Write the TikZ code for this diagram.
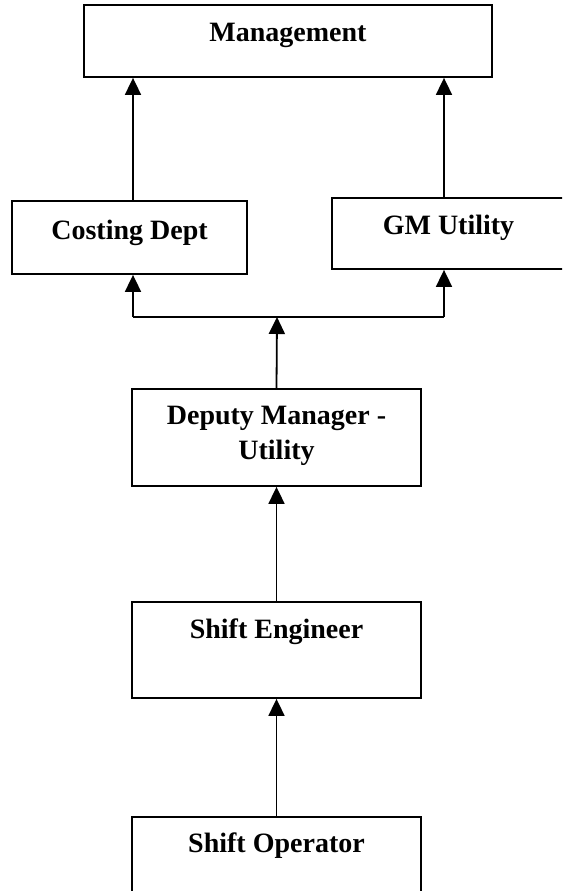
\documentclass[tikz,border=0pt]{standalone}
\usepackage{fontspec}
\setmainfont{Liberation Serif}
\usetikzlibrary{arrows.meta,calc}
\begin{document}
\begin{tikzpicture}[x=1pt,y=-1pt,
  boxline/.style={draw=black,line width=1.8pt,fill=white},
  lbl/.style={font=\fontsize{28}{35}\selectfont\bfseries,align=center,inner sep=0pt},
  arr/.style={line width=1.8pt,-{Triangle[width=16pt,length=17pt]}},
  plain/.style={line width=1.8pt}]
\useasboundingbox (0,0) rectangle (562,891);
\clip (0,0) rectangle (562,891);
% boxes
\node[boxline,minimum width=408pt,minimum height=72pt,inner sep=0pt] (mg) at (288,41) {};
\node[lbl] (mgt) at (288,35) {Management};
\node[boxline,minimum width=235pt,minimum height=73pt,inner sep=0pt] (cd) at (129.5,237.5) {};
\node[lbl] (cdt) at (129.5,233) {Costing Dept};
\node[boxline,minimum width=233pt,minimum height=71pt,inner sep=0pt] (gm) at (448.5,233.5) {};
\node[lbl] (gmt) at (448.5,228) {GM Utility};
\node[boxline,minimum width=289pt,minimum height=97pt,inner sep=0pt] (dm) at (276.5,437.5) {};
\node[lbl] (dmt) at (276.5,436) {Deputy Manager -\\Utility};
\node[boxline,minimum width=289pt,minimum height=96pt,inner sep=0pt] (se) at (276.5,650) {};
\node[lbl] (set) at (276.5,632) {Shift Engineer};
\node[boxline,minimum width=289pt,minimum height=100pt,inner sep=0pt] (so) at (276.5,867) {};
\node[lbl] (sot) at (276.5,846) {Shift Operator};
% helper coordinates
\coordinate (xa) at (133,0);
\coordinate (xb) at (444,0);
\coordinate (jn) at (277,317);
\coordinate (jl) at (133,317);
\coordinate (jr) at (444,317);
% connectors
\draw[arr] (cd.north -| xa) -- (mg.south -| xa);
\draw[arr] (gm.north -| xb) -- (mg.south -| xb);
\draw[plain] (jl) -- (jr);
\draw[arr] (jl) -- (cd.south -| xa);
\draw[arr] (jr) -- (gm.south -| xb);
\draw[arr] (dm.north) -- (jn);
\draw[arr] (se.north) -- (dm.south);
\draw[arr] (so.north) -- (se.south);
\end{tikzpicture}
\end{document}
